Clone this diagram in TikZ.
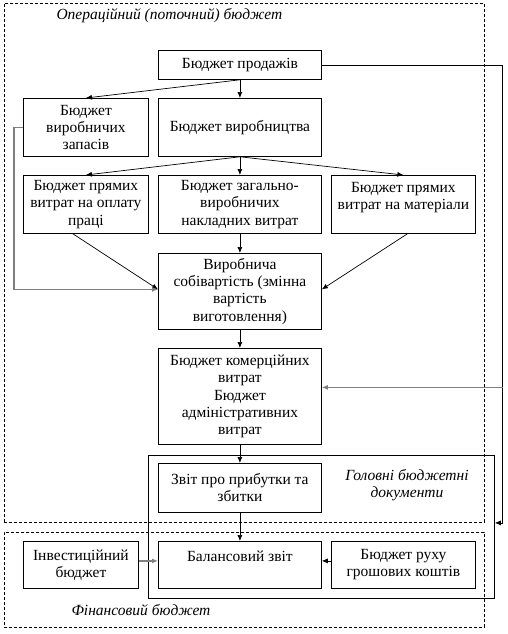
\documentclass[tikz,border=0pt]{standalone}
\usepackage{fontspec}
\setmainfont{Liberation Serif}
\usetikzlibrary{arrows.meta, positioning}
\definecolor{ink}{HTML}{000000}
\definecolor{lineG}{HTML}{7F7F7F}
\tikzset{
  box/.style={draw=ink, line width=0.8pt, fill=white, inner sep=2pt, align=center, font=\fontsize{15.5}{17.2}\selectfont},
  zone/.style={draw=ink, line width=0.6pt, dash pattern=on 3pt off 2pt},
  docframe/.style={draw=ink, line width=0.8pt},
  note/.style={font=\itshape\fontsize{15.5}{17.2}\selectfont, align=center},
  link/.style={draw=ink, line width=0.7pt, -{Latex[length=6pt,width=5pt]}},
  glink/.style={link, draw=lineG, line width=1.2pt}
}

\begin{document}
\begin{tikzpicture}[x=1pt,y=-1pt]
\useasboundingbox (0,0) rectangle (508,634);

% zones
\node[zone, minimum width=480, minimum height=519, anchor=north west] (oper) at (4,3) {};
\node[zone, minimum width=480, minimum height=95, anchor=north west] (fin) at (4,532) {};
\node[docframe, minimum width=346, minimum height=143, anchor=north west] (maindocs) at (148,455) {};

\node[note, anchor=west] (operT) at (53,16) {Операційний (поточний) бюджет};
\node[note, anchor=west] (finT) at (68,610) {Фінансовий бюджет};
\node[note] (docsT) at (407,485) {Головні бюджетні\\документи};

% budgets
\node[box, minimum width=163, minimum height=29, anchor=north west] (sales) at (158,50) {Бюджет продажів};
\node[box, minimum width=125, minimum height=58, anchor=north west] (stock) at (23,98) {Бюджет\\виробничих\\запасів};
\node[box, minimum width=163, minimum height=58, anchor=north west] (prod) at (158,98) {Бюджет виробництва};
\node[box, minimum width=125, minimum height=58, anchor=north west] (labor) at (23,175) {Бюджет прямих\\витрат на оплату\\праці};
\node[box, minimum width=163, minimum height=58, anchor=north west] (overh) at (158,175) {Бюджет загально-\\виробничих\\накладних витрат};
\node[box, minimum width=144, minimum height=58, anchor=north west] (mater) at (331,175) {Бюджет прямих\\витрат на матеріали\\\mbox{}};
\node[box, minimum width=163, minimum height=76, anchor=north west] (cost) at (158,253) {Виробнича\\собівартість (змінна\\вартість\\виготовлення)};
\node[box, minimum width=163, minimum height=96, anchor=north west] (admin) at (158,348) {Бюджет комерційних\\витрат\\Бюджет\\адміністративних\\витрат};
\node[box, minimum width=163, minimum height=49, anchor=north west] (profit) at (158,463) {Звіт про прибутки та\\збитки};
\node[box, minimum width=163, minimum height=47, anchor=north west] (balance) at (158,541) {Балансовий звіт\\\mbox{}};
\node[box, minimum width=115, minimum height=47, anchor=north west] (invest) at (23,541) {Інвестиційний\\бюджет};
\node[box, minimum width=144, minimum height=47, anchor=north west] (cash) at (331,541) {Бюджет руху\\грошових коштів};

% links
\draw[link] (sales.south) -- (stock.north);
\draw[link] (sales.south) -- (prod.north);
\draw[link] (prod.south) -- (labor.north);
\draw[link] (prod.south) -- (overh.north);
\draw[link] (prod.south) -- (mater.north);
\draw[link] ([xshift=-13pt]labor.south) -- ([yshift=2pt]cost.west);
\draw[link] (overh.south) -- (cost.north);
\draw[link] ([xshift=4pt]mater.south) -- ([yshift=2pt]cost.east);
\draw[glink] (stock.west) -- ++(-9,0) |- ([yshift=2pt]cost.west);
\draw[link] (cost.south) -- (admin.north);
\draw[link] (admin.south) -- (profit.north);
\draw[link] (profit.south) -- (balance.north);
\draw[glink] ([yshift=4pt]invest.east) -- ([yshift=4pt]balance.west);
\draw[link] ([yshift=4pt]cash.west) -- ([yshift=4pt]balance.east);
\draw[link] (sales.east) -- ++(181,0) coordinate (turn) |- ([yshift=4pt]maindocs.east);
\coordinate (adminIn) at ([yshift=9pt]admin.east);
\draw[glink] (turn |- adminIn) -- (adminIn);

\end{tikzpicture}
\end{document}
